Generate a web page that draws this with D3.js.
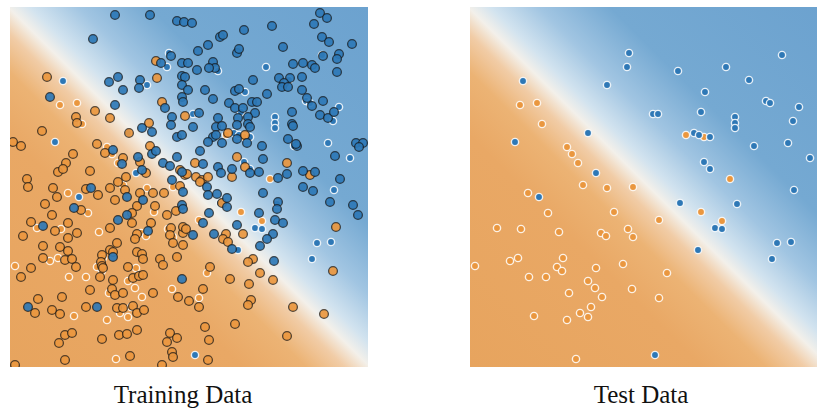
<!DOCTYPE html>
<html>
<head>
<meta charset="utf-8">
<script src="https://cdn.jsdelivr.net/npm/d3@7"></script>
<style>
  body { margin: 0; background: #fff; }
  svg { display: block; }
  .label { font-family: "Liberation Serif", "Times New Roman", serif; font-size: 25px; fill: #111; }
</style>
</head>
<body>
<svg id="chart"></svg>
<script>
// feature space is 358 x 360 units; the boundary runs corner to corner
let trainBlue = [
  [105,352],[140,352],[167,346],[174,345],[83,328],[161,311],[151,304],[172,304],[99,285],[108,290],
  [130,287],[113,277],[129,279],[172,291],[175,290],[172,282],[178,277],[40,270],[105,262],[172,270],
  [173,265],[155,259],[162,250],[161,242],[132,239],[142,235],[167,230],[172,232],[103,217],[142,213],
  [146,216],[128,210],[167,210],[112,203],[153,204],[160,201],[132,197],[162,187],[81,179],[117,170],
  [173,175],[133,167],[64,159],[172,162],[173,158],[117,152],[108,147],[33,141],[138,136],[103,110],
  [172,88],[18,60],[87,60],
  [182,344],[210,330],[213,332],[234,337],[262,341],[310,354],[317,349],[304,343],[312,330],[319,325],
  [342,323],[198,322],[188,316],[227,314],[229,318],[273,320],[313,311],[329,313],[327,308],[178,304],
  [203,305],[205,299],[187,297],[199,299],[283,303],[293,304],[302,302],[305,299],[327,295],[243,287],
  [269,289],[280,289],[274,284],[272,280],[278,280],[292,290],[195,277],[225,276],[229,278],[257,273],
  [292,277],[297,269],[203,268],[219,264],[225,259],[233,259],[242,265],[247,265],[245,254],[238,250],
  [189,254],[282,255],[282,243],[283,241],[302,261],[313,266],[310,252],[318,249],[324,255],[208,249],
  [206,240],[212,241],[228,249],[227,242],[238,243],[183,240],[240,240],[203,230],[206,232],[198,225],
  [212,224],[227,228],[237,224],[252,221],[278,228],[287,221],[286,223],[346,224],[353,224],[349,220],
  [190,216],[253,208],[193,203],[208,200],[211,194],[222,198],[240,194],[249,195],[268,189],[277,193],
  [293,196],[305,195],[325,211],[330,188],[172,195],
  [197,180],[198,172],[207,173],[217,169],[217,160],[199,154],[193,144],[249,154],[253,174],[268,165],
  [267,158],[265,147],[273,144],[227,142],[183,132],[204,133],[263,133],[257,128],[250,121],[222,118],
  [293,180],[303,176],[320,165],[343,162],[348,152],[264,106]
];

let trainOrange = [
  [146,306],[37,290],[147,289],[152,265],[85,256],[66,250],[67,244],[100,249],[175,251],[139,244],
  [32,236],[119,234],[3,225],[11,221],[87,223],[95,214],[140,221],[63,213],[113,209],[56,204],
  [48,195],[53,198],[80,196],[130,205],[136,194],[170,197],[175,192],[17,188],[116,190],[108,185],
  [18,180],[43,179],[47,170],[76,178],[88,172],[100,179],[105,167],[115,177],[130,174],[143,174],
  [154,174],[170,181],[35,163],[71,157],[127,161],[145,161],[42,152],[122,154],[166,156],[157,152],
  [122,144],[21,145],[58,144],[45,136],[67,134],[100,139],[141,144],[127,133],[161,139],[160,132],
  [173,134],[13,131],[58,129],[125,128],[107,124],[33,121],[50,120],[100,117],[163,124],[173,122],
  [58,116],[92,112],[103,115],[127,115],[132,113],[133,108],[33,109],[55,107],[62,108],[91,105],
  [92,101],[93,99],[150,108],[153,102],[167,110],[21,99],[66,100],[118,100],[11,90],[90,90],
  [123,89],[129,91],[133,92],[103,87],[80,77],[102,78],[105,72],[113,74],[143,74],[28,68],
  [52,70],[168,70],[25,54],[42,57],[50,53],[76,60],[107,59],[113,59],[123,61],[127,54],
  [134,57],[55,32],[62,34],[49,24],[92,28],[109,32],[117,33],[127,37],[160,34],[157,25],
  [167,29],[162,15],[163,10],[55,7],[120,11],[152,2],[5,2],
  [218,234],[235,232],[227,210],[185,204],[222,190],[235,200],[277,204],[300,192],[177,193],[186,190],
  [192,187],[198,190],
  [190,185],[212,164],[173,140],[176,138],[216,133],[213,128],[218,125],[233,133],[326,140],[243,108],
  [238,105],[200,100],[250,94],[220,88],[263,87],[323,96],[239,83],[193,78],[179,66],[189,60],
  [241,67],[238,62],[283,60],[314,53],[195,40],[225,43],[199,27],[277,31],[198,7]
];

let testBlue = [
  [159,314],[157,300],[53,286],[137,282],[118,234],[45,225],[126,194],[312,312],[256,300],[208,296],
  [279,287],[235,275],[296,266],[300,264],[329,260],[183,253],[188,253],[231,255],[265,250],[265,244],
  [265,239],[323,246],[224,234],[229,232],[240,230],[284,221],[318,224],[234,205],[240,198],[340,209],
  [324,177],[210,164],[267,163],[245,139],[252,138],[307,124],[321,125],[228,117],[302,108],[185,12],
  [69,170]
];

let testOrange = [
  [50,262],[67,264],[72,243],[97,220],[102,213],[108,204],[113,182],[137,179],[163,180],[216,232],
  [234,230],[260,188],[58,174],[78,154],[144,155],[27,139],[51,138],[89,135],[131,134],[136,131],
  [158,138],[163,130],[5,101],[40,106],[48,109],[93,109],[87,100],[92,96],[126,99],[153,103],
  [59,90],[76,90],[118,86],[125,79],[162,78],[99,74],[132,70],[121,60],[110,54],[118,50],
  [64,51],[97,47],[106,8],[231,155],[189,147],[252,146],[197,94],[189,69]
];

let panelNames = ['Training Data', 'Test Data'];

let width = 817;
let height = 410;
let pw = 358;
let ph = 360;
let panelX = [10, 470];
let panelTop = 7;
let labelX = [183, 641];

let svg = d3.select('#chart').attr('width', width).attr('height', height);
let defs = svg.append('defs');

let x = d3.scaleLinear().domain([0, 358]).range([0, pw]);
let y = d3.scaleLinear().domain([0, 360]).range([ph, 0]);

// signed distance across the boundary (bottom-left = orange, top-right = blue)
let diag = Math.sqrt(pw * pw + ph * ph);
let bg = d3
  .scaleLinear()
  .domain([-diag / 2, -90, -45, -18, 0, 16, 50, 100, diag / 2])
  .range(['#e7a45e', '#e9a865', '#ecb374', '#f1cca6', '#f3f0ea', '#d2e3ef', '#a1c5e2', '#75a9d2', '#6ca2cf']);

let grad = defs
  .append('linearGradient')
  .attr('id', 'bgGrad')
  .attr('gradientUnits', 'userSpaceOnUse')
  .attr('x1', 0)
  .attr('y1', ph)
  .attr('x2', pw)
  .attr('y2', 0);

grad
  .selectAll('stop')
  .data(bg.domain())
  .enter()
  .append('stop')
  .attr('offset', (d) => 0.5 + d / diag)
  .attr('stop-color', (d) => bg(d));

let colors = { orange: '#ea973f', blue: '#2e78b6' };

function drawPanel(i, showTrain) {
  let g = svg.append('g').attr('transform', `translate(${panelX[i]},${panelTop})`);

  defs
    .append('clipPath')
    .attr('id', 'clip' + i)
    .append('rect')
    .attr('width', pw)
    .attr('height', ph);

  let inner = g.append('g').attr('clip-path', `url(#clip${i})`);

  inner.append('rect').attr('width', pw).attr('height', ph).attr('fill', 'url(#bgGrad)');

  let testPts = testOrange
    .map((d) => ({ p: d, c: colors.orange }))
    .concat(testBlue.map((d) => ({ p: d, c: colors.blue })));

  inner
    .append('g')
    .selectAll('circle')
    .data(testPts)
    .enter()
    .append('circle')
    .attr('cx', (d) => x(d.p[0]))
    .attr('cy', (d) => y(d.p[1]))
    .attr('r', 3.6)
    .attr('fill', (d) => d.c)
    .attr('stroke', '#fff')
    .attr('stroke-opacity', 0.85)
    .attr('stroke-width', 1.4);

  if (showTrain) {
    let trainPts = trainOrange
      .map((d) => ({ p: d, c: colors.orange }))
      .concat(trainBlue.map((d) => ({ p: d, c: colors.blue })));

    inner
      .append('g')
      .selectAll('circle')
      .data(trainPts)
      .enter()
      .append('circle')
      .attr('cx', (d) => x(d.p[0]))
      .attr('cy', (d) => y(d.p[1]))
      .attr('r', 4.4)
      .attr('fill', (d) => d.c)
      .attr('fill-opacity', 0.92)
      .attr('stroke', '#141414')
      .attr('stroke-opacity', 0.7)
      .attr('stroke-width', 1.3);
  }

  svg
    .append('text')
    .attr('class', 'label')
    .attr('x', labelX[i])
    .attr('y', 403)
    .attr('text-anchor', 'middle')
    .text(panelNames[i]);
}

drawPanel(0, true);
drawPanel(1, false);
</script>
</body>
</html>
